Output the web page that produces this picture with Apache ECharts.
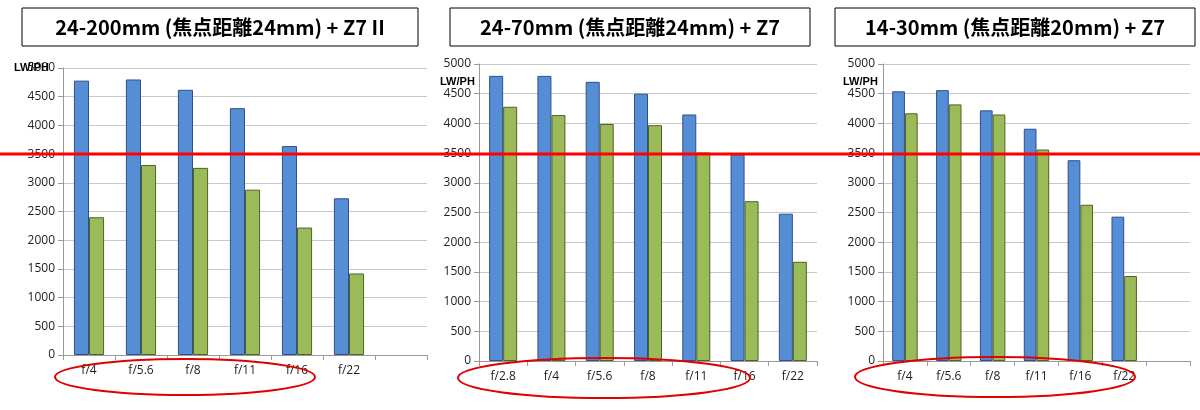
<!DOCTYPE html>
<html><head><meta charset="utf-8">
<script src="https://cdn.jsdelivr.net/npm/echarts@6/dist/echarts.min.js"></script>
<style>html,body{margin:0;background:#fff}#c{width:1200px;height:410px}</style>
</head><body><div id="c"></div>
<script>
const titles = ['24-200mm (焦点距離24mm) + Z7 II','24-70mm (焦点距離24mm) + Z7','14-30mm (焦点距離20mm) + Z7'];
const cats1 = ['f/4','f/5.6','f/8','f/11','f/16','f/22',''];
const blue1 = [4780,4800,4620,4300,3640,2730,null];
const green1 = [2400,3310,3260,2880,2220,1420,null];
const cats2 = ['f/2.8','f/4','f/5.6','f/8','f/11','f/16','f/22'];
const blue2 = [4800,4800,4700,4500,4150,3480,2480];
const green2 = [4280,4140,3990,3970,3510,2690,1670];
const cats3 = ['f/4','f/5.6','f/8','f/11','f/16','f/22',''];
const blue3 = [4540,4560,4220,3910,3380,2430,null];
const green3 = [4170,4320,4150,3560,2630,1430,null];
const yTicks = [0,500,1000,1500,2000,2500,3000,3500,4000,4500,5000];

const cats=[cats1,cats2,cats3], blues=[blue1,blue2,blue3], greens=[green1,green2,green3];
const grids=[{left:63,width:364,top:68,height:287},{left:479,width:338,top:64,height:297},{left:883,width:307,top:64,height:297}];
const F='"Open Sans","Noto Sans",sans-serif';
const xAxis=[],yAxis=[],series=[];
for(let i=0;i<3;i++){
  xAxis.push({type:'category',gridIndex:i,data:cats[i],axisLine:{lineStyle:{color:'#999'}},axisTick:{show:true,lineStyle:{color:'#999'}},
    axisLabel:{color:'#222',fontSize:12,fontFamily:F,interval:0,margin:10}});
  yAxis.push({type:'value',gridIndex:i,min:0,max:5000,interval:500,axisLine:{show:true,lineStyle:{color:'#999'}},axisTick:{show:true,lineStyle:{color:'#999'}},
    splitLine:{lineStyle:{color:'#c8c8c8'}},axisLabel:{color:'#222',fontSize:12,fontFamily:F,formatter:v=>yTicks.includes(v)?String(v):''}});
  series.push({type:'bar',xAxisIndex:i,yAxisIndex:i,data:blues[i],barGap:'0%',barCategoryGap:'42%',itemStyle:{color:'#558ed5',borderColor:'#2f4f8f',borderWidth:1}});
  series.push({type:'bar',xAxisIndex:i,yAxisIndex:i,data:greens[i],barGap:'0%',barCategoryGap:'42%',itemStyle:{color:'#9bbb59',borderColor:'#4f6228',borderWidth:1}});
}
const boxes=[[22,8,396],[450,8,360],[835,8,360]];
const graphic=[];
boxes.forEach((b,i)=>{
  graphic.push({type:'rect',shape:{x:b[0],y:b[1],width:b[2],height:38},style:{fill:'#fff',stroke:'#000',lineWidth:1}});
  graphic.push({type:'text',x:b[0]+b[2]/2,y:b[1]+19,style:{text:titles[i],font:'bold 20px "Noto Sans CJK JP",sans-serif',fill:'#000',textAlign:'center',textVerticalAlign:'middle'}});
});
[[14,62],[440,76],[843,76]].forEach(p=>graphic.push({type:'text',x:p[0],y:p[1],z:10,style:{text:'LW/PH',font:'bold 11px "Liberation Sans",sans-serif',fill:'#000'}}));
graphic.push({type:'line',z:20,shape:{x1:0,y1:154,x2:1200,y2:154},style:{stroke:'#ff0000',lineWidth:3}});
[[185,377,130,18],[604,378,146,20],[995,377,140,20]].forEach(e=>graphic.push({type:'ellipse',z:20,shape:{cx:e[0],cy:e[1],rx:e[2],ry:e[3]},style:{fill:null,stroke:'#e00000',lineWidth:2}}));
const chart=echarts.init(document.getElementById('c'));
chart.setOption({animation:false,grid:grids,xAxis,yAxis,series,graphic});
</script></body></html>
